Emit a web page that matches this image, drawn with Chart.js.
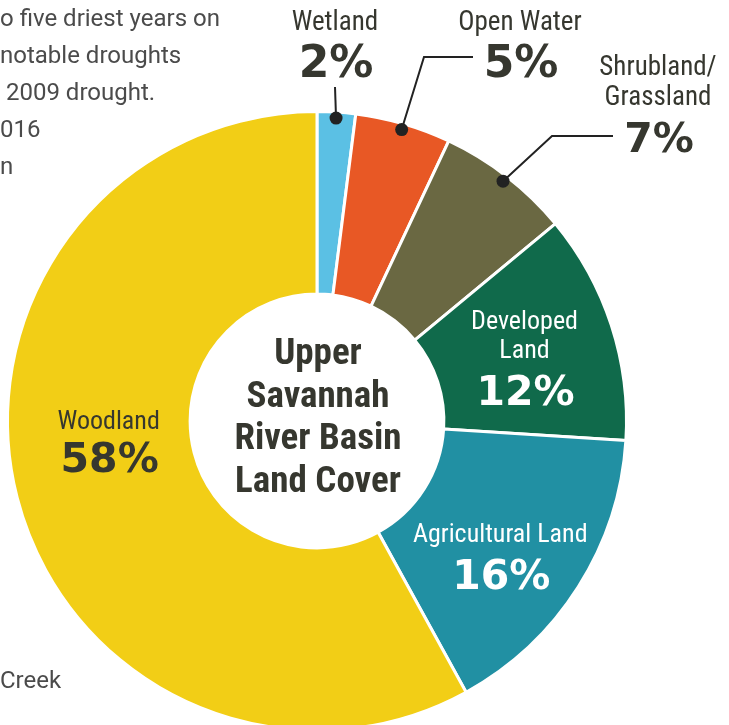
<!DOCTYPE html>
<html>
<head>
<meta charset="utf-8">
<script src="https://cdn.jsdelivr.net/npm/chart.js@4/dist/chart.umd.min.js"></script>
<style>
  html, body { margin: 0; padding: 0; background: #fff; overflow: hidden; width: 729px; height: 725px; }
  #wrap { position: relative; width: 729px; height: 745px; }
  #landCover { position: absolute; left: 0; top: 0; }
  .side { position: absolute; left: 0; font-family: Roboto, "Open Sans", sans-serif; font-size: 24px;
          line-height: 37px; color: #4b4b4b; white-space: nowrap; }
</style>
</head>
<body>
<div id="wrap">
  <canvas id="landCover" width="729" height="745"></canvas>
  <div class="side" style="top:0px">o five driest years on<br>notable droughts<br>&nbsp;2009 drought.<br>016<br>n</div>
  <div class="side" style="top:662px">Creek</div>
</div>
<script>
// land cover shares, Upper Savannah River Basin
const categories = ['Wetland', 'Open Water', 'Shrubland/Grassland', 'Developed Land', 'Agricultural Land', 'Woodland'];
const captions = [['Wetland'], ['Open Water'], ['Shrubland/', 'Grassland'], ['Developed', 'Land'], ['Agricultural Land'], ['Woodland']];
const shares = [2, 5, 7, 12, 16, 58];
const titleLines = ['Upper', 'Savannah', 'River Basin', 'Land Cover'];

const sliceColors = ['#5bc0e4', '#e85825', '#6a6842', '#106a4b', '#2190a3', '#f2ce16'];
const DARK = '#36372f';
const NARROW = '"Liberation Sans Narrow", "Roboto Condensed", "DejaVu Sans Condensed", sans-serif';
const HEAVY = '"DejaVu Sans", Roboto, sans-serif';

// outside labels: caption baselines, pct baseline, leader elbows (top slices)
const outside = {
  0: { x: 335, cap: [30], pct: 77, pctSize: 44, leader: [[335, 87]] },
  1: { x: 520, cap: [30], pct: 77, pctSize: 44, leader: [[473, 57], [424, 57]] },
  2: { x: 658, cap: [75, 105], pct: 152, pctSize: 41, leader: [[613, 136], [552, 136]] }
};
// inside labels: shift from arc centre point
const inside = {
  3: { dx: 0, dy: 4, gap: 47, color: '#fff' },
  4: { dx: -1, dy: 4, gap: 47, color: '#fff' },
  5: { dx: 3, dy: -46, gap: 43, color: DARK }
};

const labelPlugin = {
  id: 'labelPlugin',
  afterDraw(chart) {
    const ctx = chart.ctx;
    const arcs = chart.getDatasetMeta(0).data;
    ctx.save();
    ctx.textAlign = 'center';
    ctx.textBaseline = 'alphabetic';

    // centre title
    const c = arcs[0];
    ctx.fillStyle = DARK;
    ctx.font = 'bold 37px ' + NARROW;
    titleLines.forEach((t, k) => ctx.fillText(t, c.x + 1, 364 + k * 42.5));

    arcs.forEach((arc, i) => {
      const p = arc.getProps(['x', 'y', 'startAngle', 'endAngle', 'innerRadius', 'outerRadius'], true);
      if (outside[i]) {
        const o = outside[i];
        const mid = (p.startAngle + p.endAngle) / 2;
        const r = p.outerRadius - 6;
        const dotX = p.x + Math.cos(mid) * r, dotY = p.y + Math.sin(mid) * r;
        ctx.strokeStyle = '#222';
        ctx.lineWidth = 2;
        ctx.beginPath();
        o.leader.forEach((pt, k) => k === 0 ? ctx.moveTo(pt[0], pt[1]) : ctx.lineTo(pt[0], pt[1]));
        ctx.lineTo(dotX, dotY);
        ctx.stroke();
        ctx.fillStyle = '#222';
        ctx.beginPath();
        ctx.arc(dotX, dotY, 6.5, 0, Math.PI * 2);
        ctx.fill();
        ctx.fillStyle = DARK;
        ctx.font = '27px ' + NARROW;
        captions[i].forEach((t, k) => ctx.fillText(t, o.x, o.cap[k]));
        ctx.font = 'bold ' + o.pctSize + 'px ' + HEAVY;
        ctx.fillText(shares[i] + '%', o.x + 1, o.pct);
      } else {
        const s = inside[i];
        const cp = arc.getCenterPoint();
        const x = cp.x + s.dx, y = cp.y + s.dy;
        ctx.fillStyle = s.color;
        ctx.font = '26px ' + NARROW;
        const n = captions[i].length;
        captions[i].forEach((t, k) => ctx.fillText(t, x, y - (n - 1 - k) * 29));
        ctx.font = 'bold 41px ' + HEAVY;
        ctx.fillText(shares[i] + '%', x + 1, y + s.gap);
      }
    });
    ctx.restore();
  }
};

new Chart(document.getElementById('landCover'), {
  type: 'doughnut',
  data: {
    labels: categories,
    datasets: [{
      data: shares,
      backgroundColor: sliceColors,
      borderColor: '#fff',
      borderWidth: 3,
      hoverOffset: 0
    }]
  },
  options: {
    responsive: false,
    animation: false,
    cutout: '41%',
    layout: { padding: { left: 6, right: 101, top: 110, bottom: 13 } },
    plugins: { legend: { display: false }, tooltip: { enabled: false } }
  },
  plugins: [labelPlugin]
});
</script>
</body>
</html>
